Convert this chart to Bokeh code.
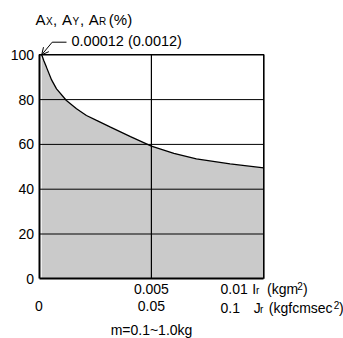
from bokeh.plotting import figure
from bokeh.models import Range1d, LinearAxis, FixedTicker, Label, Arrow, OpenHead
from bokeh.embed import file_html
from bokeh.resources import INLINE

# Data (Ir in kgm^2, A in %)
ir = [0.00012, 0.00022, 0.00033, 0.00056, 0.00078, 0.00122, 0.00167, 0.00211, 0.00256,
      0.00318, 0.00407, 0.005, 0.006, 0.007, 0.0085, 0.01]
a_pct = [100, 97.2, 94.5, 88.8, 84.8, 79.6, 75.9, 72.9, 70.7,
         67.7, 63.5, 59.2, 56.0, 53.5, 51.3, 49.5]
y_ticks = [0, 20, 40, 60, 80, 100]
y_grid = [20, 40, 60, 80]
ir_ticks = [0.005]
ir_tick_labels = {0.005: "0.005"}
jr_ticks = [0, 0.05]
jr_tick_labels = {0: "0", 0.05: "0.05"}
ir_max = 0.01
a_max = 100
jr_per_ir = 10  # 0.01 kgm2 = 0.1 kgfcmsec2
start_note = "0.00012 (0.0012)"
mass_note = "m=0.1~1.0kg"

FONT = "Liberation Sans"
FS = 14
SMALL = 10
BIG = 15

W, H = 343, 338
# plot box in canvas pixels
BX0, BX1, BY0, BY1 = 38.5, 263.3, 54.3, 278.3


def dx(px):
    return (px - BX0) / (BX1 - BX0) * ir_max


def dy(py):
    return (BY1 - py) / (BY1 - BY0) * a_max


p = figure(width=W, height=H, output_backend="svg", toolbar_location=None,
           x_range=Range1d(dx(0), dx(W)), y_range=Range1d(dy(H), dy(0)),
           min_border=0, x_axis_type=None, y_axis_type=None)
p.extra_x_ranges = {"jr": Range1d(dx(0) * jr_per_ir, dx(W) * jr_per_ir)}
p.background_fill_color = "white"
p.border_fill_color = "white"
p.outline_line_color = None
p.grid.visible = False

p.varea(x=ir, y1=0, y2=a_pct, fill_color="#cacaca")
# grid lines
p.segment(x0=[0] * len(y_grid), y0=y_grid, x1=[ir_max] * len(y_grid), y1=y_grid,
          line_color="black", line_width=1)
p.segment(x0=ir_ticks, y0=[0] * len(ir_ticks), x1=ir_ticks, y1=[a_max] * len(ir_ticks),
          line_color="black", line_width=1.2)
# top / right of the box
p.line(x=[0, ir_max, ir_max], y=[a_max, a_max, 0], line_color="black", line_width=1.6)
# curve
p.line(ir, a_pct, line_color="black", line_width=1.3)

ya = LinearAxis(fixed_location=0, bounds=(0, a_max), ticker=FixedTicker(ticks=y_ticks))
p.add_layout(ya, "left")
xa = LinearAxis(fixed_location=0, bounds=(0, ir_max), ticker=FixedTicker(ticks=ir_ticks),
                major_label_overrides=ir_tick_labels)
p.add_layout(xa, "below")
jr_axis = LinearAxis(x_range_name="jr", fixed_location=0, ticker=FixedTicker(ticks=jr_ticks),
                     major_label_overrides=jr_tick_labels)
p.add_layout(jr_axis, "below")

for ax in [xa, ya, jr_axis]:
    ax.major_tick_in = 0
    ax.major_tick_out = 0
    ax.minor_tick_in = 0
    ax.minor_tick_out = 0
    ax.major_label_text_font = FONT
    ax.major_label_text_font_size = f"{FS}px"
    ax.major_label_text_color = "black"
    ax.axis_line_color = "black"
    ax.axis_line_width = 2
    ax.level = "overlay"
ya.major_label_standoff = 5
xa.major_label_standoff = 5
jr_axis.major_label_standoff = 22
jr_axis.axis_line_color = None


def lab(text, px, base, size=FS, align="left"):
    # base = alphabetic baseline in canvas pixels; place by the font box middle
    p.add_layout(Label(x=dx(px), y=dy(base - 0.3465 * size), text=text, text_font=FONT,
                       text_font_size=f"{size}px", text_align=align,
                       text_baseline="middle", text_color="black"))


# Y title: Ax, Ay, Ar (%)
TB = 24.3
lab("A", 35, TB, BIG)
lab("X", 45.5, TB, SMALL)
lab(",", 52.5, TB, BIG)
lab("A", 61.5, TB, BIG)
lab("Y", 72, TB, SMALL)
lab(",", 79.5, TB, BIG)
lab("A", 88.3, TB, BIG)
lab("R", 98.5, TB, SMALL)
lab("(%)", 108.3, TB, BIG)

# start annotation
lab(start_note, 71, 45.5, 14.5)
p.add_layout(Arrow(x_start=dx(51.7), y_start=dy(41.7), x_end=ir[0], y_end=a_pct[0],
                   line_color="black", line_width=1,
                   end=OpenHead(size=7, line_color="black", line_width=1)))
p.add_layout(Arrow(x_start=dx(51.7), y_start=dy(41.7), x_end=dx(66), y_end=dy(41.7),
                   line_color="black", line_width=1, end=None))

# row 1: 0.01 Ir (kgm2)
R1 = 293.3
lab("0.01", 220, R1)
lab("I", 251.7, R1)
lab("r", 255.5, R1, SMALL)
lab("(kgm", 266.5, R1)
lab("2", 296.7, R1 - 4.5, SMALL)
lab(")", 302.5, R1)
# row 2: 0.1 Jr (kgfcmsec2)
R2 = 312
lab("0.1", 220, R2)
lab("J", 253.3, R2)
lab("r", 259.5, R2, SMALL)
lab("(kgfcmsec", 268.3, R2)
lab("2", 333.3, R2 - 4.5, SMALL)
lab(")", 338.5, R2)

lab(mass_note, 151, 334.3, FS, "center")

open("out.html", "w").write(file_html(p, INLINE))
